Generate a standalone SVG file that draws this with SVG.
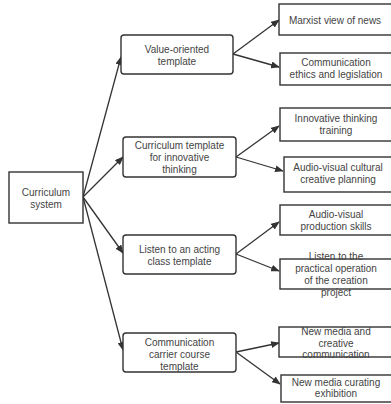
<svg xmlns="http://www.w3.org/2000/svg" width="391" height="404" viewBox="0 0 391 404">
<defs>
<style>
.b{fill:#fff;stroke:#333;stroke-width:1.4}
.t{font-family:"Liberation Sans",Arial,sans-serif;font-size:10px;fill:#444;text-anchor:middle}
.c line{stroke:#333;stroke-width:1.3;marker-end:url(#a)}
</style>
<marker id="a" viewBox="0 0 10 8" refX="9" refY="4" markerWidth="9" markerHeight="7" markerUnits="userSpaceOnUse" orient="auto">
<path d="M0,0 L10,4 L0,8 z" fill="#333"/>
</marker>
</defs>
<rect width="391" height="404" fill="#fff"/>
<g class="c">
<line x1="83" y1="197" x2="121" y2="57"/>
<line x1="83" y1="197" x2="123" y2="157"/>
<line x1="83" y1="197" x2="123" y2="253"/>
<line x1="83" y1="197" x2="123" y2="350"/>
<line x1="233" y1="54" x2="279" y2="20"/>
<line x1="233" y1="54" x2="279" y2="67"/>
<line x1="236" y1="157" x2="279" y2="126"/>
<line x1="236" y1="157" x2="283" y2="171"/>
<line x1="236" y1="254" x2="279" y2="222"/>
<line x1="236" y1="254" x2="279" y2="271"/>
<line x1="236" y1="352" x2="279" y2="343"/>
<line x1="236" y1="352" x2="280" y2="384"/>
</g>
<g id="root"><rect class="b" x="9" y="172" width="74" height="51"/>
<text class="t" x="46" y="196">Curriculum</text><text class="t" x="46" y="208">system</text></g>
<g id="n1"><rect class="b" x="121" y="35" width="112" height="39" rx="3"/>
<text class="t" x="177" y="53">Value-oriented</text><text class="t" x="177" y="65">template</text></g>
<g id="n2"><rect class="b" x="123" y="137" width="113" height="40" rx="3"/>
<text class="t" x="179.5" y="149">Curriculum template</text><text class="t" x="179.5" y="161">for innovative</text><text class="t" x="179.5" y="173">thinking</text></g>
<g id="n3"><rect class="b" x="123" y="235" width="113" height="39" rx="3"/>
<text class="t" x="179.5" y="253">Listen to an acting</text><text class="t" x="179.5" y="265">class template</text></g>
<g id="n4"><rect class="b" x="123" y="333" width="113" height="39" rx="3"/>
<text class="t" x="179.5" y="346">Communication</text><text class="t" x="179.5" y="358">carrier course</text><text class="t" x="179.5" y="370">template</text></g>
<g id="n1a"><rect class="b" x="279" y="4" width="113" height="31"/>
<text class="t" x="335" y="24">Marxist view of news</text></g>
<g id="n1b"><rect class="b" x="280" y="53" width="112" height="32"/>
<text class="t" x="336" y="66">Communication</text><text class="t" x="336" y="78">ethics and legislation</text></g>
<g id="n2a"><rect class="b" x="280" y="108" width="112" height="33"/>
<text class="t" x="336" y="122">Innovative thinking</text><text class="t" x="336" y="134">training</text></g>
<g id="n2b"><rect class="b" x="284" y="157" width="108" height="35"/>
<text class="t" x="338" y="171">Audio-visual cultural</text><text class="t" x="338" y="183">creative planning</text></g>
<g id="n3a"><rect class="b" x="280" y="205" width="112" height="30"/>
<text class="t" x="336" y="218">Audio-visual</text><text class="t" x="336" y="230">production skills</text></g>
<g id="n3b"><rect class="b" x="280" y="259" width="112" height="30"/>
<text class="t" x="336" y="260">Listen to the</text><text class="t" x="336" y="272">practical operation</text><text class="t" x="336" y="284">of the creation</text><text class="t" x="336" y="296">project</text></g>
<g id="n4a"><rect class="b" x="279" y="327" width="113" height="30"/>
<text class="t" x="336" y="335">New media and</text><text class="t" x="336" y="346.5">creative</text><text class="t" x="336" y="358">communication</text></g>
<g id="n4b"><rect class="b" x="281" y="375" width="111" height="27"/>
<text class="t" x="336" y="385.5">New media curating</text><text class="t" x="336" y="397">exhibition</text></g>
</svg>
